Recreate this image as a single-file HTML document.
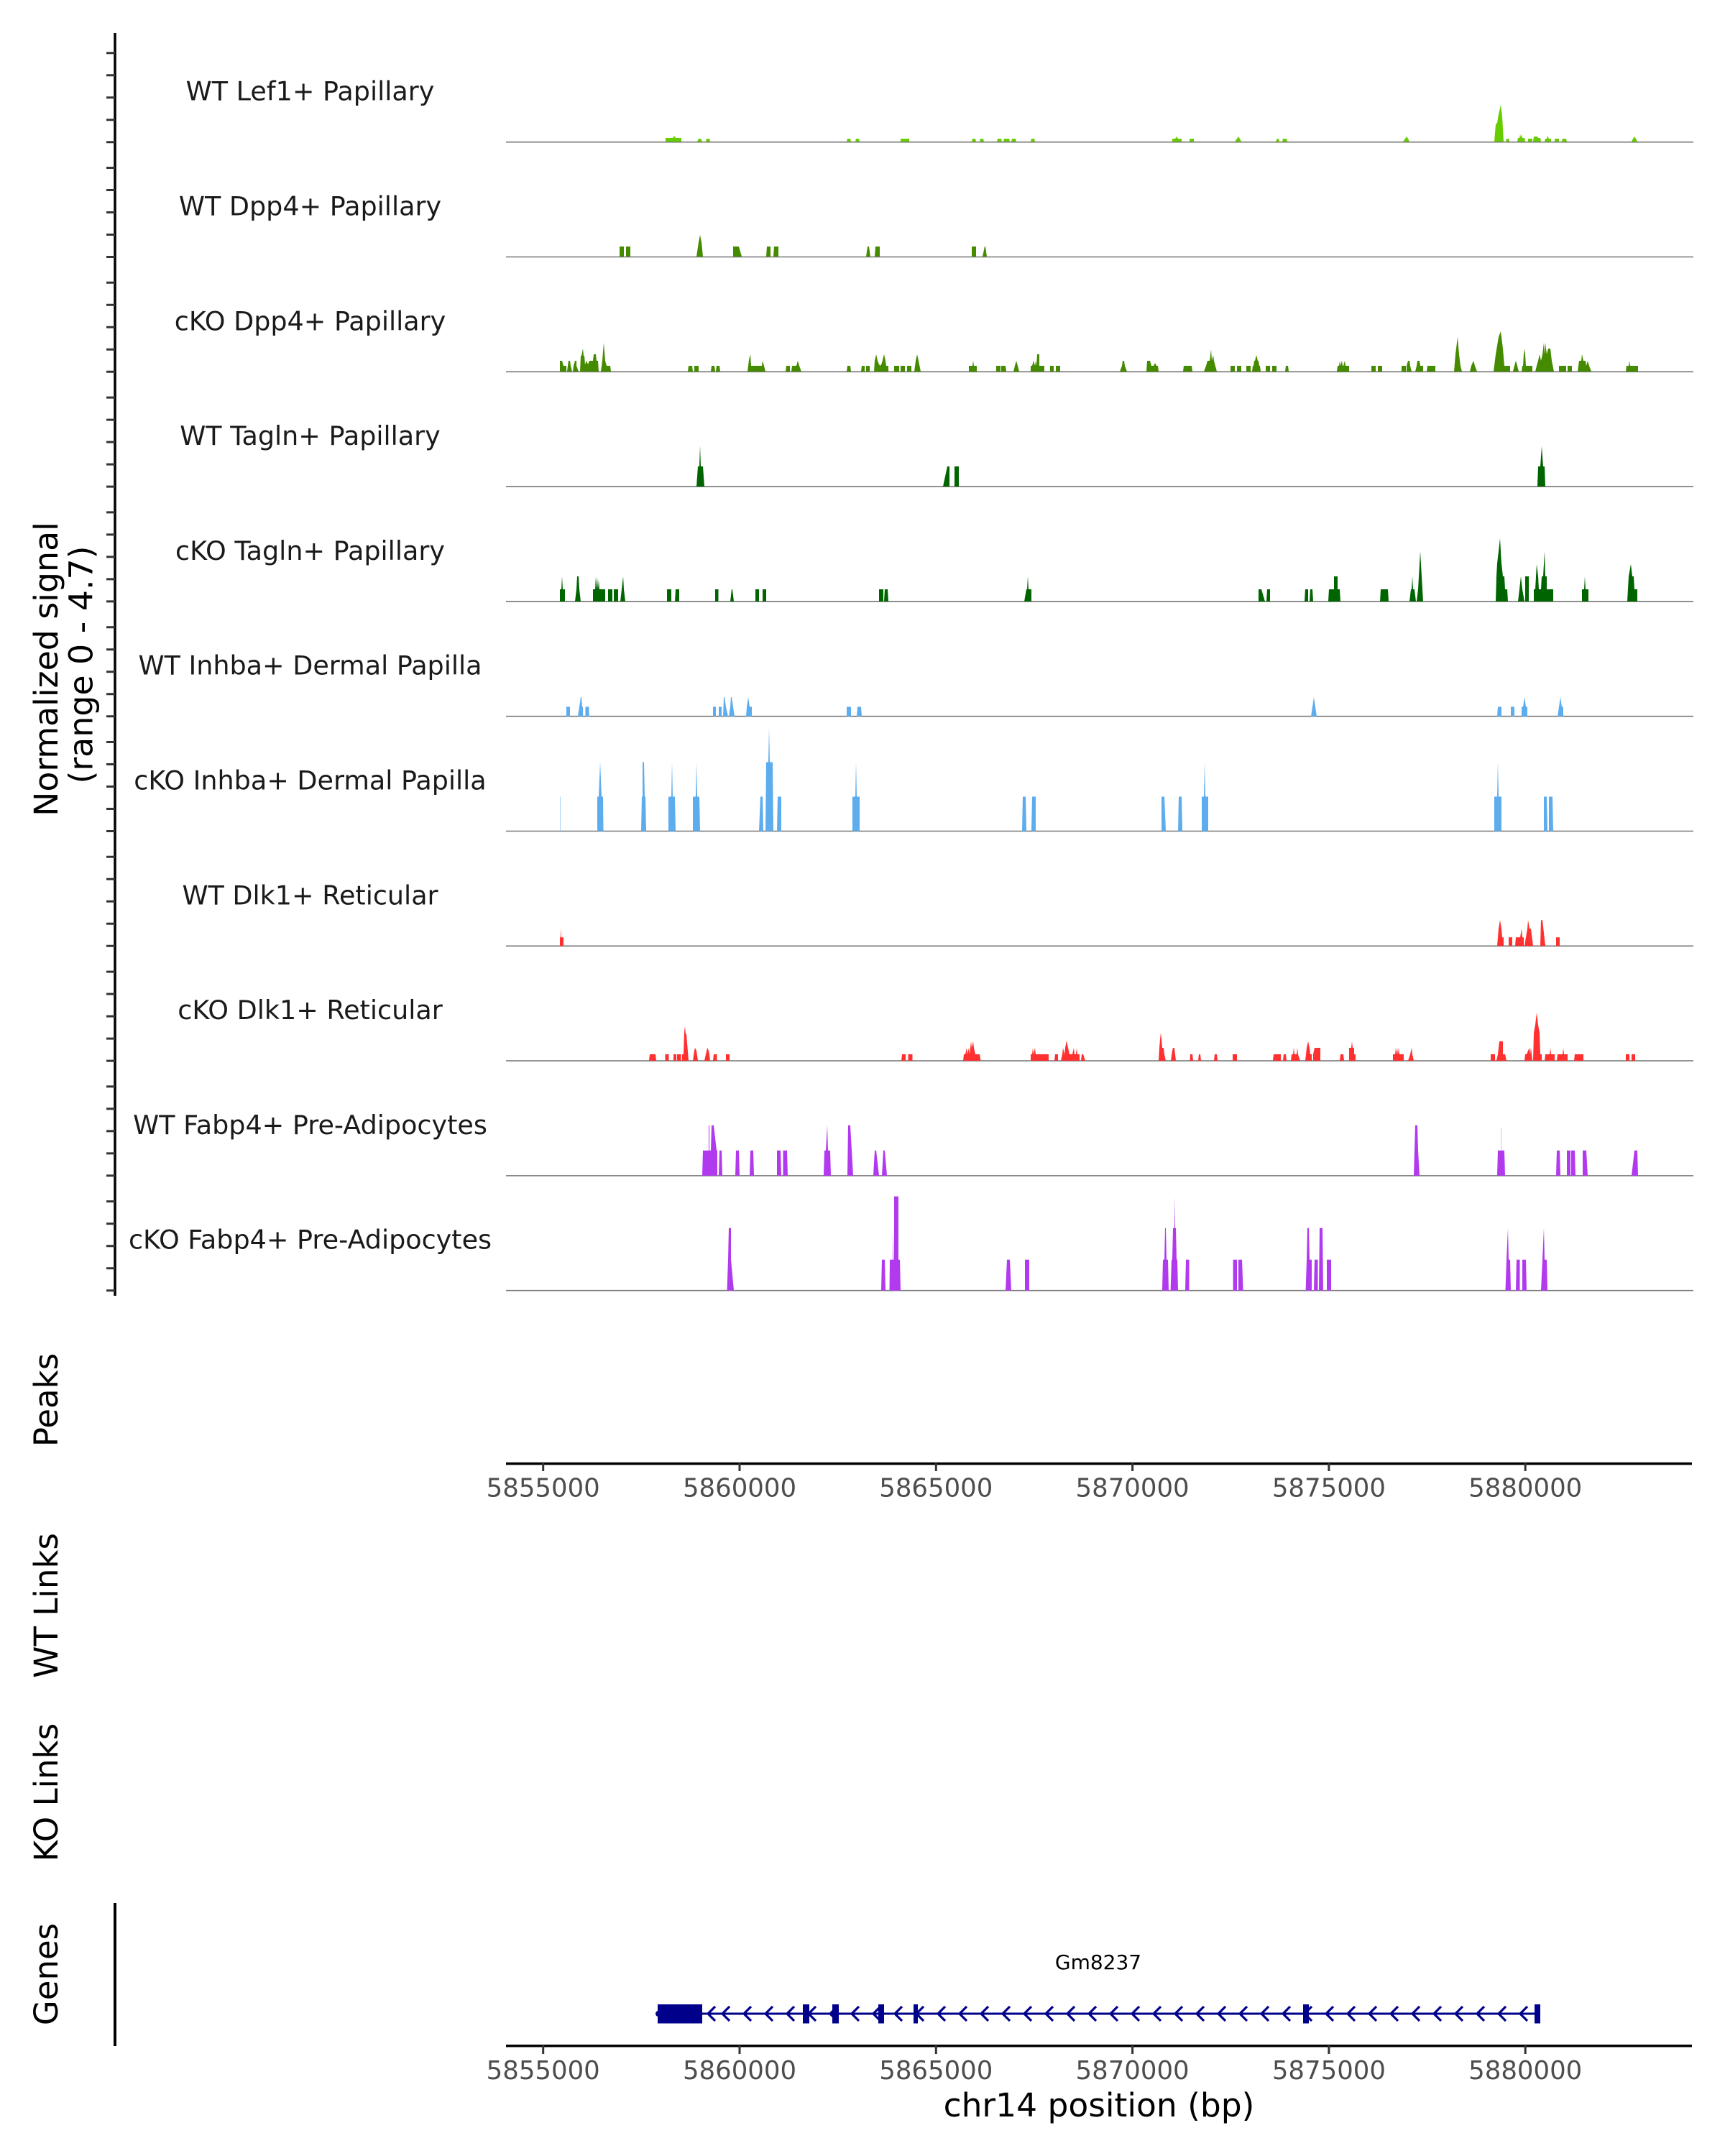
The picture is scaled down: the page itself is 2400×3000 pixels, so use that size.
<!DOCTYPE html>
<html>
<head>
<meta charset="utf-8">
<style>
html,body{margin:0;padding:0;background:#fff;}
svg{display:block;}
text{font-family:"DejaVu Sans","Liberation Sans",sans-serif;}
</style>
</head>
<body>
<svg width="2400" height="3000" viewBox="0 0 2400 3000" xmlns="http://www.w3.org/2000/svg">
<rect width="2400" height="3000" fill="#fff"/>

<!-- left y axis -->
<line x1="160" y1="46" x2="160" y2="1803" stroke="#000" stroke-width="3.5"/>
<g stroke="#333" stroke-width="3">
<path d="M148 197.7H160M148 166.7H160M148 135.7H160M148 104.7H160M148 73.7H160
M148 357.5H160M148 326.5H160M148 295.5H160M148 264.5H160M148 233.5H160
M148 517.3H160M148 486.3H160M148 455.3H160M148 424.3H160M148 393.3H160
M148 677.1H160M148 646.1H160M148 615.1H160M148 584.1H160M148 553.1H160
M148 836.9H160M148 805.9H160M148 774.9H160M148 743.9H160M148 712.9H160
M148 996.7H160M148 965.7H160M148 934.7H160M148 903.7H160M148 872.7H160
M148 1156.5H160M148 1125.5H160M148 1094.5H160M148 1063.5H160M148 1032.5H160
M148 1316.3H160M148 1285.3H160M148 1254.3H160M148 1223.3H160M148 1192.3H160
M148 1476.1H160M148 1445.1H160M148 1414.1H160M148 1383.1H160M148 1352.1H160
M148 1635.9H160M148 1604.9H160M148 1573.9H160M148 1542.9H160M148 1511.9H160
M148 1795.7H160M148 1764.7H160M148 1733.7H160M148 1702.7H160M148 1671.7H160"/>
</g>

<!-- y title -->
<text transform="translate(80,931) rotate(-90)" text-anchor="middle" font-size="45.8" fill="#000">Normalized signal</text>
<text transform="translate(128.5,925) rotate(-90)" text-anchor="middle" font-size="45.8" fill="#000">(range 0 - 4.7)</text>

<!-- track labels -->
<g font-size="36.5" fill="#1a1a1a" text-anchor="middle">
<text x="431.5" y="139.7">WT Lef1+ Papillary</text>
<text x="431.5" y="299.5">WT Dpp4+ Papillary</text>
<text x="431.5" y="459.3">cKO Dpp4+ Papillary</text>
<text x="431.5" y="619.1">WT Tagln+ Papillary</text>
<text x="431.5" y="778.9">cKO Tagln+ Papillary</text>
<text x="431.5" y="938.7">WT Inhba+ Dermal Papilla</text>
<text x="431.5" y="1098.5">cKO Inhba+ Dermal Papilla</text>
<text x="431.5" y="1258.3">WT Dlk1+ Reticular</text>
<text x="431.5" y="1418.1">cKO Dlk1+ Reticular</text>
<text x="431.5" y="1577.9">WT Fabp4+ Pre-Adipocytes</text>
<text x="431.5" y="1737.7">cKO Fabp4+ Pre-Adipocytes</text>
</g>

<!-- baselines -->
<g stroke="#777" stroke-width="1.6">
<line x1="704" x2="2356" y1="197.7" y2="197.7"/>
<line x1="704" x2="2356" y1="357.5" y2="357.5"/>
<line x1="704" x2="2356" y1="517.3" y2="517.3"/>
<line x1="704" x2="2356" y1="677.1" y2="677.1"/>
<line x1="704" x2="2356" y1="836.9" y2="836.9"/>
<line x1="704" x2="2356" y1="996.7" y2="996.7"/>
<line x1="704" x2="2356" y1="1156.5" y2="1156.5"/>
<line x1="704" x2="2356" y1="1316.3" y2="1316.3"/>
<line x1="704" x2="2356" y1="1476.1" y2="1476.1"/>
<line x1="704" x2="2356" y1="1635.9" y2="1635.9"/>
<line x1="704" x2="2356" y1="1795.7" y2="1795.7"/>
</g>

<!-- Track 1 WT Lef1+ -->
<g transform="translate(0,197)" fill="#66CD00">
<path d="M926 0V-5H936L938-8L940-5H948V0Z M970 0L972-4H975L977 0Z M982 0L983-4H987L988 0Z M1178 0L1179-4H1183L1184 0Z M1190 0L1191-4H1195L1196 0Z M1253 0V-4H1265V0Z M1352 0L1353-4H1357L1358 0Z M1363 0L1364-4H1368L1369 0Z M1387 0L1388-4H1393L1394 0Z M1396 0L1397-4H1404L1405 0Z M1407 0L1408-4H1413L1414 0Z M1434 0L1435-4H1439L1440 0Z M1631 0V-4H1635L1637-7L1639-4H1644V0Z M1655 0V-4H1661V0Z M1718 0L1721-4L1723-7L1725-4L1727 0Z M1775 0L1777-4H1779L1780 0Z M1784 0L1785-4H1790L1791 0Z M1952 0L1955-4L1957-7L1959-4L1961 0Z M2079 0L2081-24L2083-26L2085-38L2088-51L2090-35L2092 0Z M2095 0L2096-4H2099L2100 0Z M2111 0L2112-5H2114L2115-10L2116-6L2117-10L2118-5H2121L2122 0Z M2126 0V-4H2132V0Z M2133 0L2134-7H2139L2140-5H2143L2144 0Z M2149 0L2150-4L2152-4L2153-8L2155-4H2158V0Z M2163 0V-4H2169V0Z M2173 0L2174-4H2179L2180 0Z M2270 0L2272-4L2274-7L2276-4L2278 0Z"/>
</g>

<!-- Track 2 WT Dpp4+ -->
<g transform="translate(0,357)" fill="#458B00">
<path d="M862 0V-14H868V0Z M871 0V-14H877V0Z M969 0L972-20L974-30L976-20L978 0Z M1020 0V-14H1028L1032 0Z M1066 0L1067-14H1072V0Z M1076 0L1077-14H1083V0Z M1205 0L1207-14H1209L1211 0Z M1217 0L1218-14H1224V0Z M1352 0V-14H1358V0Z M1367 0L1370-14H1371L1373 0Z"/>
</g>

<!-- Track 3 cKO Dpp4+ -->
<g transform="translate(0,517)" fill="#458B00">
<path d="M779 0V-15H782L784-8H788V0Z M789 0L790-8L791-15H793L794-8L796 0Z M797 0L798-8L800-15H802V-8L805 0Z M807 0L808-22L809-22L811-32L812-22H813L814-10L816-15L818-10L820-15H823L825-15L826-24L829-24L830-15L832-15L833 0Z M836 0L838-15L840-40L842-15L844-8H849L850 0Z M957 0L958-8H963L964 0Z M966 0V-8H972V0Z M989 0L990-8H994L995 0Z M996 0L997-8H1001L1002 0Z M1040 0L1042-16L1044-24L1045-8H1060L1061-15L1063-8L1065 0Z M1093 0L1094-8H1099V0Z M1101 0L1102-8H1108L1110-15L1112-8L1115 0Z M1178 0L1179-8H1183L1184 0Z M1198 0L1199-8H1203V0Z M1205 0V-8H1210V0Z M1216 0L1217-15L1219-24L1221-15L1223-10L1225-8L1227-12L1230-24L1232-15L1233-8H1236V0Z M1244 0V-8H1251V0Z M1253 0V-8H1259V0Z M1262 0V-8H1268V0Z M1272 0L1274-15L1276-24L1278-15L1281 0Z M1348 0V-8H1353L1354-15L1355-8H1359V0Z M1386 0V-8H1392V0Z M1393 0V-8H1399L1400 0Z M1410 0L1412-8L1414-15L1416-8L1418 0Z M1434 0V-8H1436L1438-15L1440-8L1441-15L1442-8L1443-24H1446V-8H1453V0Z M1461 0V-8H1466V0Z M1469 0V-8H1475V0Z
M1558 0L1561-8L1562-15H1564L1565-8L1568 0Z M1595 0L1596-15H1600L1602-8L1605-8L1607-12L1609-8H1611L1612 0Z M1646 0L1647-8H1652L1653-8H1658L1659 0Z M1675 0L1678-8L1680-15L1683-15L1685-31L1686-15L1688-23L1689-15L1693 0Z M1712 0V-8H1718V0Z M1721 0V-8H1727V0Z M1734 0V-8H1740V0Z M1742 0L1743-8H1744L1745-15L1746-15L1748-23L1750-15L1751-15L1752-8H1753L1754 0Z M1761 0V-8H1767V0Z M1770 0V-8H1776V0Z M1788 0L1789-8H1792L1793 0Z M1860 0L1861-8H1863L1864-15L1865-8L1867-15L1868-8L1869-8L1871-15L1872-8H1877V0Z M1908 0V-8H1914V0Z M1917 0V-8H1923V0Z M1950 0V-8H1956V0Z M1957 0V-8L1959-15H1961L1962-8L1964 0Z M1969 0L1971-8L1972-15H1975L1976-8H1980V0Z M1985 0L1986-8H1997V0Z M2023 0L2025-24L2028-48L2030-24L2032-8L2034 0Z M2045 0L2047-8L2050-15L2052-8L2055 0Z M2078 0L2081-24L2085-48L2088-56L2091-32L2093-8L2094 0Z M2093 0V-8H2101V0Z M2105 0L2107-8L2109-15L2111-8L2113 0Z M2117 0L2118-8H2119L2120-24L2121-32L2122-24L2123-8H2132V0Z M2136 0L2138-8L2140-15L2142-24L2144-15L2146-24L2148-40L2149-24L2150-40L2152-24L2154-32L2157-32L2159-15L2162 0Z M2169 0V-8H2179V0Z M2181 0V-8H2187V0Z M2195 0L2197-15L2200-15L2201-24L2203-15L2206-15L2207-8L2209-15L2211-8L2214 0Z M2262 0L2263-8L2266-8L2267-15L2268-8H2272L2273-8H2279V0Z"/>
</g>

<!-- Track 4 WT Tagln+ -->
<g transform="translate(0,677)" fill="#006400">
<path d="M969 0L971-28L973-28L974-57L975-28L978-28L980 0Z M1312 0L1318-28H1321V0Z M1328 0V-28H1334V0Z M2139 0L2140-28H2143L2145-56L2147-28H2149L2150 0Z"/>
</g>

<!-- Track 5 cKO Tagln+ -->
<g transform="translate(0,837)" fill="#006400">
<path d="M779 0V-17H781L782-35L783-17H786V0Z M800 0L802-17L803-35L805-35L806-17L808 0Z M825 0V-17H828L829-35L830-17L831-33L832-17L833-30L834-17H842V0Z M846 0V-17H852V0Z M854 0V-17H860V0Z M863 0L865-17L867-35L868-17L870 0Z M928 0V-17H934V0Z M939 0L940-17H945V0Z M995 0V-17H999.5V0Z M1016 0L1018-17H1019L1021 0Z M1051 0V-17H1056V0Z M1061 0V-17H1066V0Z M1223 0V-17H1229V0Z M1230 0L1231-17H1235L1236 0Z M1425 0L1428-17H1429L1430-35L1431-17H1435V0Z
M1751 0V-17H1755L1760 0Z M1762 0L1763-17H1767V0Z M1815 0L1816-17H1820V0Z M1822 0L1823-17H1826L1827 0Z M1848 0L1849-17H1856V-35H1861V-17H1864L1865 0Z M1920 0L1921-17H1931L1932 0Z M1961 0L1963-17L1964-17L1965-35L1966-17H1968L1970 0Z M1971 0L1973-17L1975-52L1976-70L1977-52L1980 0Z M2081 0L2082-35L2083-53L2085-70L2087-88L2088-70L2089-53L2091-35L2093-35L2094-17H2097L2098 0Z M2112 0L2114-17L2116-35L2118-17L2121 0Z M2122 0V-35H2127V0Z M2134 0V-17H2136L2138-52L2140-35L2141-17H2144L2145-35H2147L2149-70L2150-35H2152V-17H2161V0Z M2201 0V-17H2204L2205-35L2206-17H2210V0Z M2264 0L2266-35L2269-52L2271-35L2273-35L2274-17H2278V0Z"/>
</g>

<!-- Track 6 WT Inhba+ -->
<g transform="translate(0,997)" fill="#5CACEE">
<path d="M788 0V-13.5H793V0Z M804 0L806-13.5L808-27H809L810-13.5H811V0Z M814.5 0V-13.5H819.5V0Z M992 0V-13.5H996V0Z M1000 0V-13.5H1004V0Z M1006 0L1007-27H1008L1010-13.5L1013 0Z M1014 0L1016-13.5L1017-27H1018L1020-13.5L1022 0Z M1038 0L1039-13.5L1041-27L1043-13.5H1046V0Z M1178 0V-13.5H1184V0Z M1192 0L1193-13.5H1198L1199 0Z M1824 0L1826-13.5L1828-27L1830-13.5L1832 0Z M2083 0L2084-13.5H2089V0Z M2102 0V-13.5H2107V0Z M2117 0V-13.5H2119L2121-27L2123-13.5H2125V0Z M2167 0L2169-13.5L2171-27L2173-13.5H2175V0Z"/>
</g>

<!-- Track 7 cKO Inhba+ -->
<g transform="translate(0,1156.5)" fill="#5CACEE">
<path d="M779 0V-48H780V0Z" opacity="0.5"/>
<path d="M831 0V-48H833L835-96L837-48H839L839.5 0Z M892 0L893-48H894V-96H896L897-48H898L899 0Z M930 0V-48H934L935-96L936-48H939L940 0Z M964 0V-48H968L969-96L970-48H973L974 0Z M1056 0L1058-48H1061L1062 0Z M1065 0L1066-96H1069L1070-144L1071-96H1075L1076 0Z M1081 0L1082-48H1087V0Z M1186 0V-48H1190L1191-96L1192-48H1196V0Z M1422 0L1423-48H1427L1428 0Z M1435 0L1436-48H1441V0Z M1616 0V-48H1620L1622 0Z M1639 0L1640-48H1644L1645 0Z M1672 0V-48H1675L1676-96L1677-48H1681V0Z M2079 0V-48H2083L2084-96L2085-48H2089V0Z M2148 0V-48H2152L2153 0Z M2155 0V-48H2160L2161 0Z"/>
</g>

<!-- Track 8 WT Dlk1+ -->
<g transform="translate(0,1316.3)" fill="#FF3030">
<path d="M779 0V-12H780L780.5-25L781-12H784V0Z M2083 0L2085-24L2087-36L2089-24L2090-12H2092V0Z M2099 0V-12H2104V0Z M2108 0L2109-12H2115L2117-24L2118-12H2120V0Z M2121 0L2123-12L2125-24L2126-36L2128-24H2130L2133 0Z M2143 0L2144-36H2146L2150 0Z M2165 0V-12H2170V0Z"/>
</g>

<!-- Track 9 cKO Dlk1+ -->
<g transform="translate(0,1476)" fill="#FF3030">
<path d="M903 0L904-9H912L913 0Z M925.5 0V-9H930.5V0Z M937 0V-9H941V0Z M942 0V-9H947.5V0Z M949 0V-9H951L952-40L953-48L954-37H955L958 0Z M964 0L966-14L967-18L969-14L971 0Z M980 0L982-9L984-18L986-14L987-9L988 0Z M992 0L993-9H997.5V0Z M1010 0V-9H1015V0Z M1254 0L1255-9H1260V0Z M1263.5 0V-9H1269.5V0Z M1340 0L1341-9H1343L1345-18L1346-9L1348-18L1349-9L1351-27L1352-18L1354-27L1355-18L1357-9H1363L1364.5 0Z M1434 0V-9H1436L1437-18L1438-9L1440-18L1441-9H1459V0Z M1467 0L1468-9H1472V0Z M1476 0L1478-9L1479-18L1481-9L1482-18L1484-28L1486-18L1488-9H1492L1494-18L1495-9H1497L1498-18L1499-9H1502V0Z M1504 0L1505-9H1507L1510 0Z
M1612 0L1613-18L1614-30L1615-39L1616-30L1617-18H1619L1620-9L1622 0Z M1629 0L1631-14L1632-18L1634-18L1636 0Z M1655.5 0L1656-9H1659L1660 0Z M1667 0L1668-9H1670L1671 0Z M1689 0L1690-9H1693L1694 0Z M1715 0V-9H1721V0Z M1771 0L1772-9H1782V0Z M1785 0L1786-9H1789L1790 0Z M1796 0L1797-9H1799L1800-18L1801-9H1804L1805-18L1806-9L1809 0Z M1816 0L1818-18L1820-27L1822-18L1823-9H1825V0Z M1827 0V-9L1829-18H1837V0Z M1864 0L1865-9H1869L1870 0Z M1877 0V-18H1880L1881-27L1882-18H1884V-9H1886V0Z M1938 0V-9H1941L1942-18L1943-9L1944-18L1945-9L1946-18L1947-9H1953V0Z M1959 0L1962-9L1964-18L1965-9L1967 0Z M2074 0V-9H2080V0Z M2082 0L2084-9L2086-27H2091V-9H2094L2096 0Z M2121 0L2122-9H2124L2126-14L2128-18L2129-9L2130-18L2132 0Z M2133 0L2134-39L2136-50L2138-67L2140-50L2142-39L2143-9H2145V0Z M2149 0L2150-9H2156L2157-18L2158-9H2163V0Z M2166 0L2167-9H2174L2175-18L2176-9H2181V0Z M2190 0L2191-9H2203V0Z M2262 0V-9H2267V0Z M2270 0V-9H2275V0Z"/>
</g>

<!-- Track 10 WT Fabp4+ -->
<g transform="translate(0,1635.9)" fill="#B23AEE">
<path d="M977 0L978-35H986V-70H987V-35H989L990-70H993L997-35H998V0Z M1000 0L1001-35H1004L1005 0Z M1023 0L1024-35H1028L1029 0Z M1043 0L1044-35H1048L1049 0Z M1081 0V-35H1086L1087 0Z M1089.5 0V-35H1095L1096 0Z M1146 0L1147-35H1149L1151-70L1152-35H1155L1156 0Z M1179 0L1180-70H1183L1185-35L1187 0Z M1215 0L1217-35H1219L1223 0Z M1227 0L1229-35H1231L1234 0Z M1967 0L1969-70H1972L1973-35L1975 0Z M2083 0L2084-35H2093L2094 0Z M2165 0L2166-35H2170L2171 0Z M2180 0V-35H2185V0Z M2186 0V-35H2191L2192 0Z M2202 0V-35H2207L2209 0Z M2270 0L2274-35H2278L2279 0Z"/>
<path d="M2088 0V-67H2089V0Z" opacity="0.35"/>
</g>

<!-- Track 11 cKO Fabp4+ -->
<g transform="translate(0,1795.7)" fill="#B23AEE">
<path d="M1011.5 0L1013-43L1014-87H1017V-43L1021 0Z M1226 0L1227-43H1231L1232 0Z M1237.5 0L1238-43H1242L1243-87V-43H1244V-131H1250V-43H1252L1253 0Z M1399 0L1401-43H1405L1407 0Z M1426 0V-43H1432V0Z M1617 0L1618-43H1620L1621-87H1622L1623-43H1625L1626 0Z M1628.6 0L1630-43H1631L1632-87H1634L1634.7-131L1635-87H1636L1637-43H1638L1639 0Z M1649 0L1650-43H1654.5V0Z M1715.6 0V-43H1721V0Z M1723 0V-43H1728L1729.6 0Z M1816.6 0L1818-43L1819-87H1821L1822-43H1825V0Z M1828 0L1829-43H1833.5V0Z M1835 0L1836-87H1840L1841 0Z M1846 0V-43H1852V0Z M2094.5 0L2096-43L2098-87L2099-43H2101L2102 0Z M2109 0L2110-43H2114.5V0Z M2118 0V-43H2123L2124 0Z M2144 0L2146-43L2148-87L2149-43H2152L2153 0Z"/>
</g>

<!-- side labels -->
<g font-size="45" fill="#000" text-anchor="middle">
<text transform="translate(80,1948) rotate(-90)">Peaks</text>
<text transform="translate(80,2234) rotate(-90)">WT Links</text>
<text transform="translate(80,2494) rotate(-90)">KO Links</text>
<text transform="translate(80,2747) rotate(-90)">Genes</text>
</g>

<!-- top x axis -->
<line x1="704" y1="2036.6" x2="2354" y2="2036.6" stroke="#000" stroke-width="3.5"/>
<g stroke="#333" stroke-width="3">
<path d="M755.7 2036V2047M1029 2036V2047M1302.3 2036V2047M1575.6 2036V2047M1848.9 2036V2047M2122.2 2036V2047"/>
</g>
<g font-size="35.5" fill="#4d4d4d" text-anchor="middle">
<text x="755.7" y="2082.5">5855000</text>
<text x="1029" y="2082.5">5860000</text>
<text x="1302.3" y="2082.5">5865000</text>
<text x="1575.6" y="2082.5">5870000</text>
<text x="1848.9" y="2082.5">5875000</text>
<text x="2122.2" y="2082.5">5880000</text>
</g>

<!-- genes axis line -->
<line x1="160" y1="2648" x2="160" y2="2847" stroke="#000" stroke-width="4"/>

<!-- gene model -->
<g fill="#00008B" stroke="none">
<rect x="977" y="2800.5" width="1158" height="3"/>
<rect x="915" y="2789" width="62" height="26.5"/>
<circle cx="916" cy="2802" r="4"/>
<rect x="1117" y="2789" width="9" height="26.5"/>
<rect x="1158" y="2789" width="9" height="26.5"/>
<rect x="1222" y="2789" width="8" height="26.5"/>
<rect x="1271" y="2789" width="6" height="26.5"/>
<rect x="1813" y="2789" width="8" height="26.5"/>
<rect x="2135" y="2789" width="8" height="26.5"/>
</g>
<g fill="none" stroke="#00008B" stroke-width="3.2">
<path d="M995 2792L985 2802L995 2812 M1015 2792L1005 2802L1015 2812 M1045 2792L1035 2802L1045 2812 M1075 2792L1065 2802L1075 2812 M1105 2792L1095 2802L1105 2812 M1135 2792L1125 2802L1135 2812 M1165 2792L1155 2802L1165 2812 M1195 2792L1185 2802L1195 2812 M1225 2792L1215 2802L1225 2812 M1255 2792L1245 2802L1255 2812 M1285 2792L1275 2802L1285 2812 M1315 2792L1305 2802L1315 2812 M1345 2792L1335 2802L1345 2812 M1375 2792L1365 2802L1375 2812 M1405 2792L1395 2802L1405 2812 M1435 2792L1425 2802L1435 2812 M1465 2792L1455 2802L1465 2812 M1495 2792L1485 2802L1495 2812 M1525 2792L1515 2802L1525 2812 M1555 2792L1545 2802L1555 2812 M1585 2792L1575 2802L1585 2812 M1615 2792L1605 2802L1615 2812 M1645 2792L1635 2802L1645 2812 M1675 2792L1665 2802L1675 2812 M1705 2792L1695 2802L1705 2812 M1735 2792L1725 2802L1735 2812 M1765 2792L1755 2802L1765 2812 M1795 2792L1785 2802L1795 2812 M1825 2792L1815 2802L1825 2812 M1855 2792L1845 2802L1855 2812 M1885 2792L1875 2802L1885 2812 M1915 2792L1905 2802L1915 2812 M1945 2792L1935 2802L1945 2812 M1975 2792L1965 2802L1975 2812 M2005 2792L1995 2802L2005 2812 M2035 2792L2025 2802L2035 2812 M2065 2792L2055 2802L2065 2812 M2095 2792L2085 2802L2095 2812 M2125 2792L2115 2802L2125 2812"/>
</g>
<text x="1528" y="2740" font-size="28" fill="#000" text-anchor="middle">Gm8237</text>

<!-- bottom x axis -->
<line x1="704" y1="2846.7" x2="2354" y2="2846.7" stroke="#000" stroke-width="3.5"/>
<g stroke="#333" stroke-width="3">
<path d="M755.7 2846V2858M1029 2846V2858M1302.3 2846V2858M1575.6 2846V2858M1848.9 2846V2858M2122.2 2846V2858"/>
</g>
<g font-size="35.5" fill="#4d4d4d" text-anchor="middle">
<text x="755.7" y="2893">5855000</text>
<text x="1029" y="2893">5860000</text>
<text x="1302.3" y="2893">5865000</text>
<text x="1575.6" y="2893">5870000</text>
<text x="1848.9" y="2893">5875000</text>
<text x="2122.2" y="2893">5880000</text>
</g>
<text x="1529" y="2945" font-size="45.5" fill="#000" text-anchor="middle">chr14 position (bp)</text>
</svg>
</body>
</html>
